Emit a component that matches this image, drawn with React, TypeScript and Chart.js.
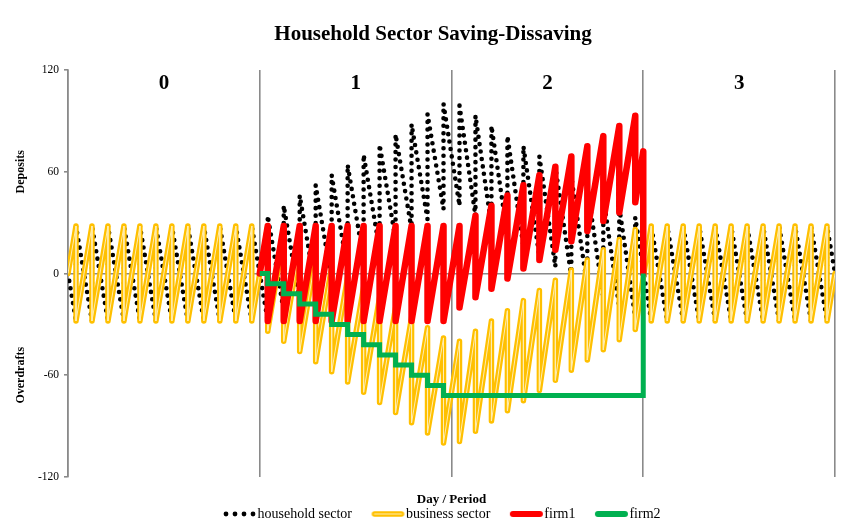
import React, { useEffect, useRef } from "react";
import { Chart, registerables } from "chart.js";

Chart.register(...registerables);

// ---------- data (months; payments happen mid-month) ----------
const chartTitle = "Household Sector Saving-Dissaving";
const xAxisTitle = "Day / Period";
const sideTitles = ["Deposits", "Overdrafts"];
const periodLabels = ["0", "1", "2", "3"];
const periodBounds = [0, 12, 24, 36, 48];
const yTickValues = [-120, -60, 0, 60, 120];
const seriesNames = ["household sector", "business sector", "firm1", "firm2"];

// business sector: balance just before / just after each monthly wage payment
const businessPeak = [
  28, 28, 28, 28, 28, 28, 28, 28, 28, 28, 28, 28,
  28, 22, 16, 10, 4, -2, -8, -14, -20, -26, -32, -38,
  -40, -34, -28, -22, -16, -10, -4, 2, 8, 14, 20, 26,
  28, 28, 28, 28, 28, 28, 28, 28, 28, 28, 28, 28,
];
const businessTrough = [
  -28, -28, -28, -28, -28, -28, -28, -28, -28, -28, -28, -28,
  -34, -40, -46, -52, -58, -64, -70, -76, -82, -88, -94, -100,
  -99, -93, -87, -81, -75, -69, -63, -57, -51, -45, -39, -33,
  -28, -28, -28, -28, -28, -28, -28, -28, -28, -28, -28, -28,
];
const businessStartEnd = [0, 0];

// household sector: balance just before / just after each wage receipt
const householdLow = [
  -28, -28, -28, -28, -28, -28, -28, -28, -28, -28, -28, -28,
  -28, -22, -16, -10, -4, 2, 8, 14, 20, 26, 32, 38,
  40, 34, 28, 22, 16, 10, 4, -2, -8, -14, -20, -26,
  -28, -28, -28, -28, -28, -28, -28, -28, -28, -28, -28, -28,
];
const householdHigh = [
  28, 28, 28, 28, 28, 28, 28, 28, 28, 28, 28, 28,
  34, 40, 46, 52, 58, 64, 70, 76, 82, 88, 94, 100,
  99, 93, 87, 81, 75, 69, 63, 57, 51, 45, 39, 33,
  28, 28, 28, 28, 28, 28, 28, 28, 28, 28, 28, 28,
];
const householdStartEnd = [0, 0];

// firm1 (periods 1 and 2)
const firm1Peak = [
  28, 28, 28, 28, 28, 28, 28, 28, 28, 28, 28, 28,
  28, 34, 40, 46, 52, 58, 63, 69, 75, 81, 87, 93,
];
const firm1Trough = [
  -28, -28, -28, -28, -28, -28, -28, -28, -28, -28, -28, -28,
  -20, -14, -9, -3, 3, 8, 14, 19, 25, 31, 36, 42,
];
const firm1StartEnd = [0, 72, 0];

// firm2 (periods 1 and 2): level after each step
const firm2Level = [0, -6, -12, -18, -24, -30, -36, -42, -48, -54, -60, -66, -72, 0];

// ---------- helpers ----------
const FIRST_FIRM_MONTH = 12;
const FIRM_END_MONTH = 36;

function sawtooth(start: number, before: number[], after: number[], end: number, first: number, last: number) {
  const pts: { x: number; y: number }[] = [{ x: first, y: start }];
  before.forEach((b, i) => {
    const m = first + i + 0.5;
    pts.push({ x: m, y: b });
    pts.push({ x: m, y: after[i] });
  });
  pts.push({ x: last, y: end });
  return pts;
}

function firm2Points() {
  const pts: { x: number; y: number }[] = [{ x: FIRST_FIRM_MONTH, y: firm2Level[0] }];
  for (let i = 1; i < firm2Level.length - 1; i++) {
    const m = FIRST_FIRM_MONTH + i - 0.5;
    pts.push({ x: m, y: firm2Level[i - 1] });
    pts.push({ x: m, y: firm2Level[i] });
  }
  pts.push({ x: FIRM_END_MONTH, y: firm2Level[firm2Level.length - 2] });
  pts.push({ x: FIRM_END_MONTH, y: firm2Level[firm2Level.length - 1] });
  return pts;
}

function firm1Points() {
  const pts = sawtooth(firm1StartEnd[0], firm1Peak, firm1Trough, firm1StartEnd[1], FIRST_FIRM_MONTH, FIRM_END_MONTH);
  pts.push({ x: FIRM_END_MONTH, y: firm1StartEnd[2] });
  return pts;
}

const FONT = "'Liberation Serif', 'Times New Roman', serif";
const GRID = "#8a8a8a";
const GOLD = "#FFC000";
const GOLD_INNER = "#FFEDB0";
const RED = "#FF0000";
const GREEN = "#00B050";

function makeMarker(kind: string) {
  const c = document.createElement("canvas");
  c.width = 60;
  c.height = 10;
  const g = c.getContext("2d")!;
  g.lineCap = "round";
  if (kind === "dots") {
    g.fillStyle = "#000";
    for (let i = 0; i < 4; i++) {
      g.beginPath();
      g.arc(28 + i * 9, 5, 2.4, 0, Math.PI * 2);
      g.fill();
    }
  } else if (kind === "double") {
    g.strokeStyle = GOLD;
    g.lineWidth = 5.5;
    g.beginPath();
    g.moveTo(28, 5);
    g.lineTo(55, 5);
    g.stroke();
    g.strokeStyle = GOLD_INNER;
    g.lineWidth = 1.2;
    g.beginPath();
    g.moveTo(28, 5);
    g.lineTo(55, 5);
    g.stroke();
  } else {
    g.strokeStyle = kind;
    g.lineWidth = 6;
    g.beginPath();
    g.moveTo(28, 5);
    g.lineTo(55, 5);
    g.stroke();
  }
  return c;
}

const extraText = {
  id: "extraText",
  afterDraw(chart: any) {
    const { ctx, scales, chartArea } = chart;
    const y = scales.y;
    const x = scales.x;
    ctx.save();
    ctx.fillStyle = "#000";
    ctx.textAlign = "center";
    ctx.textBaseline = "middle";
    ctx.font = `bold 12px ${FONT}`;
    [60, -60].forEach((v, i) => {
      ctx.save();
      ctx.translate(21, y.getPixelForValue(v));
      ctx.rotate(-Math.PI / 2);
      ctx.fillText(sideTitles[i], 0, 0);
      ctx.restore();
    });
    ctx.font = `bold 21px ${FONT}`;
    periodLabels.forEach((t, i) => {
      const cx = x.getPixelForValue((periodBounds[i] + periodBounds[i + 1]) / 2);
      ctx.fillText(t, cx, chartArea.top + 14);
    });
    ctx.restore();
  },
};

export default function App() {
  const ref = useRef<HTMLCanvasElement>(null);

  useEffect(() => {
    document.body.style.margin = "0";
    const markers = [makeMarker("dots"), makeMarker("double"), makeMarker(RED), makeMarker(GREEN)];
    const lastMonth = periodBounds[periodBounds.length - 1];
    const businessData = sawtooth(businessStartEnd[0], businessPeak, businessTrough, businessStartEnd[1], 0, lastMonth);
    const householdData = sawtooth(householdStartEnd[0], householdLow, householdHigh, householdStartEnd[1], 0, lastMonth);

    const chart = new Chart(ref.current!, {
      type: "line",
      data: {
        datasets: [
          { label: seriesNames[3], data: firm2Points(), borderColor: GREEN, borderWidth: 5, borderJoinStyle: "miter", pointRadius: 0 },
          { label: seriesNames[2], data: firm1Points(), borderColor: RED, borderWidth: 6.5, borderJoinStyle: "round", borderCapStyle: "round", pointRadius: 0 },
          { label: "business inner", data: businessData, borderColor: GOLD_INNER, borderWidth: 1, borderJoinStyle: "round", pointRadius: 0 },
          { label: seriesNames[1], data: businessData, borderColor: GOLD, borderWidth: 5.5, borderJoinStyle: "round", borderCapStyle: "round", pointRadius: 0 },
          { label: seriesNames[0], data: householdData, borderColor: "#000", borderWidth: 4.6, borderDash: [0, 7.5], borderCapStyle: "round", borderJoinStyle: "round", pointRadius: 0 },
        ],
      },
      options: {
        animation: false,
        responsive: false,
        devicePixelRatio: 1,
        layout: { padding: { left: 31, right: 10, top: 0, bottom: -4 } },
        plugins: {
          tooltip: { enabled: false },
          title: {
            display: true,
            text: chartTitle,
            color: "#000",
            font: { family: FONT, size: 21, weight: "bold" },
            padding: { top: 22.4, bottom: 22.4 },
          },
          legend: {
            position: "bottom",
            labels: {
              color: "#000",
              font: { family: FONT, size: 14 },
              usePointStyle: true,
              pointStyleWidth: 45,
              padding: 2,
              generateLabels: () =>
                seriesNames.map((name, i) => ({
                  text: name,
                  pointStyle: markers[i],
                  fillStyle: "transparent",
                  strokeStyle: "transparent",
                  lineWidth: 0,
                  hidden: false,
                  datasetIndex: [4, 3, 1, 0][i],
                  fontColor: "#000",
                })),
            },
            onClick: () => {},
          },
        },
        scales: {
          x: {
            type: "linear",
            min: periodBounds[0],
            max: lastMonth,
            afterBuildTicks: (s: any) => {
              s.ticks = periodBounds.map((v) => ({ value: v }));
            },
            ticks: { display: false },
            grid: { color: GRID, lineWidth: 1.6, drawTicks: false },
            border: { display: false },
            title: {
              display: true,
              text: xAxisTitle,
              color: "#000",
              font: { family: FONT, size: 13, weight: "bold" },
              padding: { top: 0, bottom: -2.8 },
            },
            afterFit: (s: any) => {
              s.height = 28;
            },
          },
          y: {
            min: yTickValues[0],
            max: yTickValues[yTickValues.length - 1],
            afterBuildTicks: (s: any) => {
              s.ticks = yTickValues.map((v) => ({ value: v }));
            },
            ticks: { color: "#000", font: { family: FONT, size: 11.5 }, padding: 5 },
            grid: {
              color: (c: any) => (c.tick && c.tick.value === 0 ? GRID : "transparent"),
              lineWidth: 1.6,
              tickColor: GRID,
              tickLength: 4,
            },
            border: { display: true, color: GRID, width: 1.6 },
            afterFit: (s: any) => {
              s.width = 37;
            },
          },
        },
      },
      plugins: [extraText],
    });
    return () => chart.destroy();
  }, []);

  return <canvas ref={ref} width={845} height={527} style={{ display: "block" }} />;
}
